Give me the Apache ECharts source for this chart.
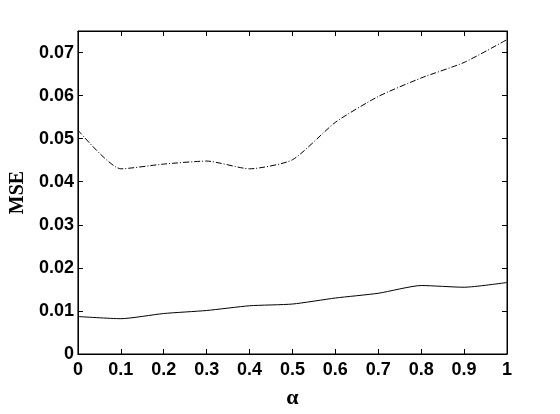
<!DOCTYPE html>
<html>
<head>
<meta charset="utf-8">
<script src="https://cdn.jsdelivr.net/npm/echarts@6/dist/echarts.min.js"></script>
<style>
  html, body { margin: 0; padding: 0; background: #fff; }
  #main { width: 560px; height: 414px; }
</style>
</head>
<body>
<div id="main"></div>
<script>
  // alpha values on x axis
  const alpha = [0, 0.1, 0.2, 0.3, 0.4, 0.5, 0.6, 0.7, 0.8, 0.9, 1]
  // dash-dot curve (upper)
  const mseUpper = [0.0520, 0.0430, 0.0441, 0.0448, 0.0430, 0.0451, 0.0538, 0.0598, 0.0641, 0.0677, 0.0730]
  // solid curve (lower)
  const mseLower = [0.0087, 0.0082, 0.0094, 0.0101, 0.0112, 0.0116, 0.0130, 0.0141, 0.0159, 0.0155, 0.0166]

  const tickFont = { fontFamily: 'Liberation Sans', fontWeight: 'bold', fontSize: 18, color: '#000' }
  const axisLine = { show: true, onZero: false, lineStyle: { color: '#000', width: 1 } }
  const tickIn = { show: true, inside: true, length: 5, lineStyle: { color: '#000' } }

  const chart = echarts.init(document.getElementById('main'))
  chart.setOption({
    animation: false,
    grid: { left: 74, right: 53, top: 31, bottom: 51, show: true, borderColor: '#000', borderWidth: 1 },
    xAxis: [
      {
        type: 'value', min: 0, max: 1, interval: 0.1,
        name: 'α', nameLocation: 'middle', nameGap: 33,
        nameTextStyle: { fontFamily: 'Liberation Serif', fontWeight: 'bold', fontSize: 22, color: '#000' },
        axisLine: axisLine, axisTick: tickIn, splitLine: { show: false },
        axisLabel: Object.assign({ margin: 7, formatter: v => String(Math.round(v * 10) / 10) }, tickFont)
      },
      {
        type: 'value', min: 0, max: 1, interval: 0.1, position: 'top',
        axisLine: axisLine, axisTick: tickIn, splitLine: { show: false }, axisLabel: { show: false }
      }
    ],
    yAxis: [
      {
        type: 'value', min: 0, max: 0.075, interval: 0.01,
        name: 'MSE', nameLocation: 'middle', nameGap: 46,
        nameTextStyle: { fontFamily: 'Liberation Serif', fontWeight: 'bold', fontSize: 20, color: '#000' },
        axisLine: axisLine, axisTick: tickIn, splitLine: { show: false },
        axisLabel: Object.assign({ margin: 4, formatter: v => String(Math.round(v * 100) / 100), showMaxLabel: false }, tickFont)
      },
      {
        type: 'value', min: 0, max: 0.075, interval: 0.01, position: 'right',
        axisLine: axisLine, axisTick: tickIn, splitLine: { show: false }, axisLabel: { show: false }
      }
    ],
    series: [
      {
        type: 'line', data: alpha.map((a, i) => [a, mseUpper[i]]),
        showSymbol: false, smooth: 0.2,
        lineStyle: { color: '#000', width: 1, type: [6, 2, 1, 2] }
      },
      {
        type: 'line', data: alpha.map((a, i) => [a, mseLower[i]]),
        showSymbol: false, smooth: 0.2,
        lineStyle: { color: '#000', width: 1 }
      },
      // empty series so the top/right mirror axes are bound and draw their ticks
      { type: 'line', xAxisIndex: 1, yAxisIndex: 1, data: [], silent: true }
    ]
  })
</script>
</body>
</html>
